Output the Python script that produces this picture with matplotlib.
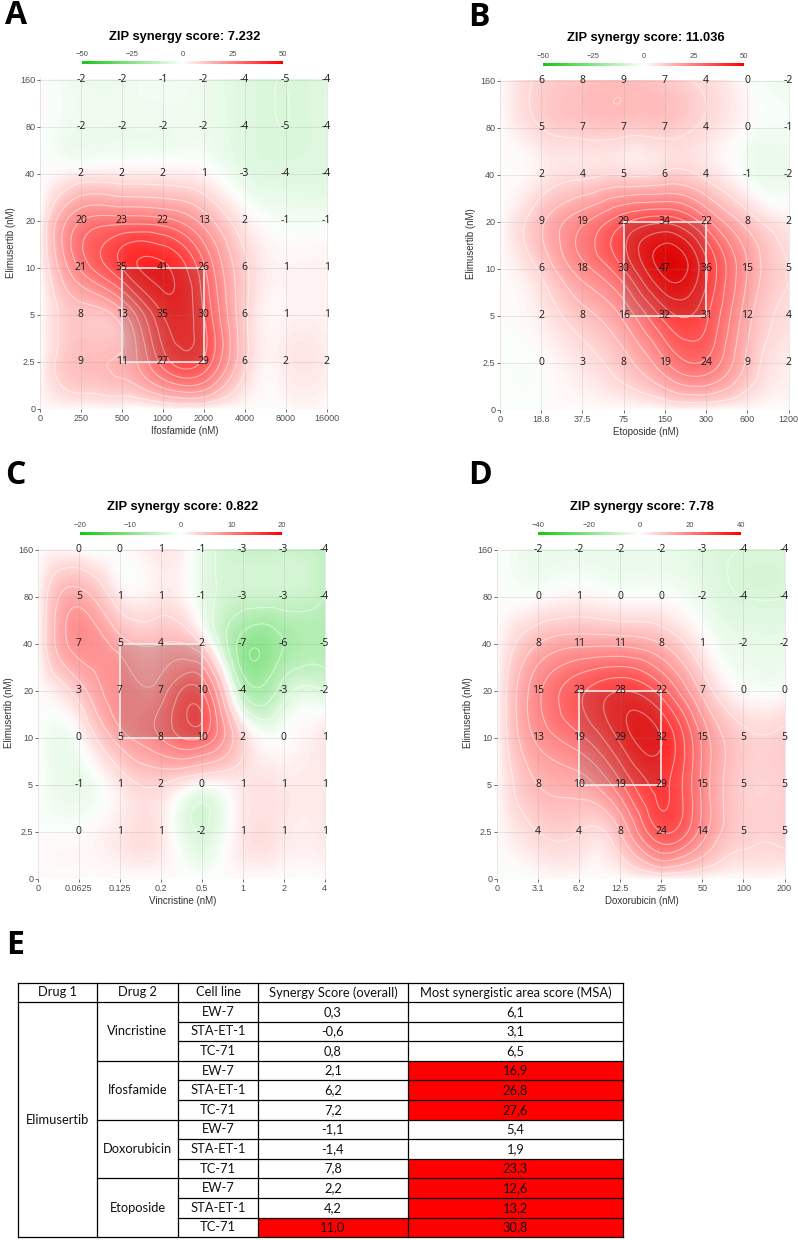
import numpy as np
import matplotlib
matplotlib.use('Agg')
import matplotlib.pyplot as plt
import matplotlib.tri as mtri
from matplotlib.colors import LinearSegmentedColormap, ListedColormap, Normalize
from matplotlib.cm import ScalarMappable
from matplotlib.patches import Rectangle

# ------- datos -------

elim_doses = ['0', '2.5', '5', '10', '20', '40', '80', '160']

ifos_doses = ['0', '250', '500', '1000', '2000', '4000', '8000', '16000']
ifos_scores = [  # filas de 160 (arriba) a 2.5 (abajo)
    [-2, -2, -1, -2, -4, -5, -4],
    [-2, -2, -2, -2, -4, -5, -4],
    [2, 2, 2, 1, -3, -4, -4],
    [20, 23, 22, 13, 2, -1, -1],
    [21, 35, 41, 26, 6, 1, 1],
    [8, 13, 35, 30, 6, 1, 1],
    [9, 11, 27, 29, 6, 2, 2],
]

etop_doses = ['0', '18.8', '37.5', '75', '150', '300', '600', '1200']
etop_scores = [
    [6, 8, 9, 7, 4, 0, -2],
    [5, 7, 7, 7, 4, 0, -1],
    [2, 4, 5, 6, 4, -1, -2],
    [9, 19, 29, 34, 22, 8, 2],
    [6, 18, 30, 47, 36, 15, 5],
    [2, 8, 16, 32, 31, 12, 4],
    [0, 3, 8, 19, 24, 9, 2],
]

vinc_doses = ['0', '0.0625', '0.125', '0.2', '0.5', '1', '2', '4']
vinc_scores = [
    [0, 0, 1, -1, -3, -3, -4],
    [5, 1, 1, -1, -3, -3, -4],
    [7, 5, 4, 2, -7, -6, -5],
    [3, 7, 7, 10, -4, -3, -2],
    [0, 5, 8, 10, 2, 0, 1],
    [-1, 1, 2, 0, 1, 1, 1],
    [0, 1, 1, -2, 1, 1, 1],
]

doxo_doses = ['0', '3.1', '6.2', '12.5', '25', '50', '100', '200']
doxo_scores = [
    [-2, -2, -2, -2, -3, -4, -4],
    [0, 1, 0, 0, -2, -4, -4],
    [8, 11, 11, 8, 1, -2, -2],
    [15, 23, 28, 22, 7, 0, 0],
    [13, 19, 29, 32, 15, 5, 5],
    [8, 10, 19, 29, 15, 5, 5],
    [4, 4, 8, 24, 14, 5, 5],
]

# tabla E
drug1 = 'Elimusertib'
drug2 = ['Vincristine', 'Ifosfamide', 'Doxorubicin', 'Etoposide']
cell_lines = ['EW-7', 'STA-ET-1', 'TC-71']
overall = ['0,3', '-0,6', '0,8', '2,1', '6,2', '7,2', '-1,1', '-1,4', '7,8', '2,2', '4,2', '11,0']
msa = ['6,1', '3,1', '6,5', '16,9', '26,8', '27,6', '5,4', '1,9', '23,3', '12,6', '13,2', '30,8']
overall_red = [False] * 11 + [True]
msa_red = [False, False, False, True, True, True, False, False, True, True, True, True]

W, H = 798, 1240
fig = plt.figure(figsize=(W / 100, H / 100), dpi=100)
plt.rcParams['font.family'] = ['Liberation Sans', 'DejaVu Sans']

cmap = LinearSegmentedColormap.from_list('zip', ['#12c812', '#ffffff', '#ff0000'])
# la superficie se ve algo mas saturada que la barra
t = np.linspace(-1, 1, 512)
f = np.sign(t) * np.abs(t) ** 0.8
cmap_surf = ListedColormap(cmap((f + 1) / 2))


def px_axes(l, t, r, b):
    return fig.add_axes([l / W, 1 - b / H, (r - l) / W, (b - t) / H])


def panel(box, xdoses, xlabel, scores, lim, title, cb_box, msa_box, letter, letter_xy):
    l, t, r, b = box
    ax = px_axes(l, t, r, b)
    z = np.zeros((8, 8))
    z[1:, 1:] = np.array(scores)[::-1]
    gx, gy = np.meshgrid(np.arange(8), np.arange(8))
    tri = mtri.Triangulation(gx.ravel(), gy.ravel())
    interp = mtri.CubicTriInterpolator(tri, z.ravel(), kind='min_E')
    tri_ref, z_ref = mtri.UniformTriRefiner(tri).refine_field(z.ravel(), triinterpolator=interp, subdiv=4)
    ax.tricontourf(tri_ref, z_ref, levels=np.linspace(-lim, lim, 201), cmap=cmap_surf, extend='both')
    step = lim / 10
    lv = [v for v in np.arange(-lim, lim + step, step) if abs(v) > 1e-9]
    ax.tricontour(tri_ref, z_ref, levels=lv, colors='white', linewidths=0.8, alpha=0.5,
                  linestyles='solid')
    for v in range(8):
        ax.axvline(v, color='#999999', lw=0.5, alpha=0.3, zorder=3)
        ax.axhline(v, color='#999999', lw=0.5, alpha=0.3, zorder=3)
    x1, y1, x2, y2 = msa_box
    ax.add_patch(Rectangle((x1, y1), x2 - x1, y2 - y1, facecolor='black', alpha=0.12, zorder=4))
    ax.add_patch(Rectangle((x1, y1), x2 - x1, y2 - y1, facecolor='none', edgecolor='#eeeeee', lw=1.2, zorder=5))
    for i in range(1, 8):
        for j in range(1, 8):
            ax.text(i, j, str(int(z[j, i])), ha='center', va='center', fontsize=7.5,
                    color='#1a1a1a', family='Open Sans', zorder=6)
    ax.set_xlim(0, 7.06)
    ax.set_ylim(0, 7.06)
    ax.set_xticks(range(8))
    ax.set_xticklabels(xdoses)
    ax.set_yticks(range(8))
    ax.set_yticklabels(elim_doses)
    ax.tick_params(length=2, width=0.6, color='#555555', labelsize=6.5, labelcolor='#4d4d4d', pad=1.5)
    for s in ax.spines.values():
        s.set_visible(False)
    ax.set_xlabel(xlabel, fontsize=7, color='#333333', labelpad=2)
    ax.set_ylabel('Elimusertib (nM)', fontsize=7, color='#333333', labelpad=3)
    # titulo y barra de color
    cx = (l + r) / 2
    fig.text(cx / W, 1 - (t - 40) / H, title, ha='center', va='center', fontsize=9.3, fontweight='bold')
    cl, ct, cr, cb = cb_box
    cax = px_axes(cl, ct, cr, cb)
    sm = ScalarMappable(norm=Normalize(-lim, lim), cmap=cmap)
    cbar = fig.colorbar(sm, cax=cax, orientation='horizontal')
    cbar.outline.set_visible(False)
    cbar.set_ticks([-lim, -lim / 2, 0, lim / 2, lim])
    cbar.set_ticklabels(['\u2212%g' % lim, '\u2212%g' % (lim / 2), '0', '%g' % (lim / 2), '%g' % lim])
    cax.xaxis.set_ticks_position('top')
    cax.tick_params(length=0, labelsize=5.5, labelcolor='#4d4d4d', pad=2)
    fig.text(letter_xy[0] / W, 1 - letter_xy[1] / H, letter, fontsize=23, fontweight='bold',
             family='Open Sans', ha='left', va='center')
    return ax


panel((40, 77, 329, 409), ifos_doses, 'Ifosfamide (nM)', ifos_scores, 50,
      'ZIP synergy score: 7.232', (82, 61, 283, 64), (2, 1, 4, 3), 'A', (5, 16))
panel((500, 78, 791, 410), etop_doses, 'Etoposide (nM)', etop_scores, 50,
      'ZIP synergy score: 11.036', (543, 63, 744, 66), (3, 2, 5, 4), 'B', (468, 17))
panel((38, 547, 327, 879), vinc_doses, 'Vincristine (nM)', vinc_scores, 20,
      'ZIP synergy score: 0.822', (80, 532, 282, 535), (2, 3, 4, 5), 'C', (5, 475))
panel((497, 547, 787, 879), doxo_doses, 'Doxorubicin (nM)', doxo_scores, 40,
      'ZIP synergy score: 7.78', (538, 532, 741, 535), (2, 2, 4, 4), 'D', (468, 475))

# ------- tabla E -------

tab = fig.add_axes([0, 0, 1, 1])
tab.set_xlim(0, W)
tab.set_ylim(H, 0)
tab.axis('off')
tab.patch.set_alpha(0)
tab.text(6, 945, 'E', fontsize=23, fontweight='bold', family='Open Sans', ha='left', va='center')

cols = [18, 97, 178, 258, 408, 623]
top, head_b, rh = 983, 1002, 19.6
rows_y = [head_b + k * rh for k in range(13)]
tfont = dict(fontsize=9.3, family='Lato', ha='center', va='center', color='#111111')

for k in range(12):
    if overall_red[k]:
        tab.add_patch(Rectangle((cols[3], rows_y[k]), cols[4] - cols[3], rh, color='#ff0000', lw=0))
    if msa_red[k]:
        tab.add_patch(Rectangle((cols[4], rows_y[k]), cols[5] - cols[4], rh, color='#ff0000', lw=0))

headers = ['Drug 1', 'Drug 2', 'Cell line', 'Synergy Score (overall)', 'Most synergistic area score (MSA)']
for c, h in enumerate(headers):
    tab.text((cols[c] + cols[c + 1]) / 2, (top + head_b) / 2, h, **tfont)

tab.text((cols[0] + cols[1]) / 2, (rows_y[0] + rows_y[12]) / 2, drug1, **tfont)
for g, d in enumerate(drug2):
    tab.text((cols[1] + cols[2]) / 2, (rows_y[3 * g] + rows_y[3 * g + 3]) / 2, d, **tfont)
for k in range(12):
    yc = (rows_y[k] + rows_y[k + 1]) / 2
    tab.text((cols[2] + cols[3]) / 2, yc, cell_lines[k % 3], **tfont)
    tab.text((cols[3] + cols[4]) / 2, yc, overall[k], **tfont)
    tab.text((cols[4] + cols[5]) / 2, yc, msa[k], **tfont)

lw = 0.9
tab.plot([cols[0], cols[5]], [top, top], color='black', lw=lw)
tab.plot([cols[0], cols[5]], [head_b, head_b], color='black', lw=lw)
tab.plot([cols[0], cols[5]], [rows_y[12], rows_y[12]], color='black', lw=lw)
for k in range(1, 12):
    x0 = cols[1] if k % 3 == 0 else cols[2]
    tab.plot([x0, cols[5]], [rows_y[k], rows_y[k]], color='black', lw=lw)
for x in cols:
    tab.plot([x, x], [top, rows_y[12]], color='black', lw=lw)

fig.savefig('out.png', dpi=100)
